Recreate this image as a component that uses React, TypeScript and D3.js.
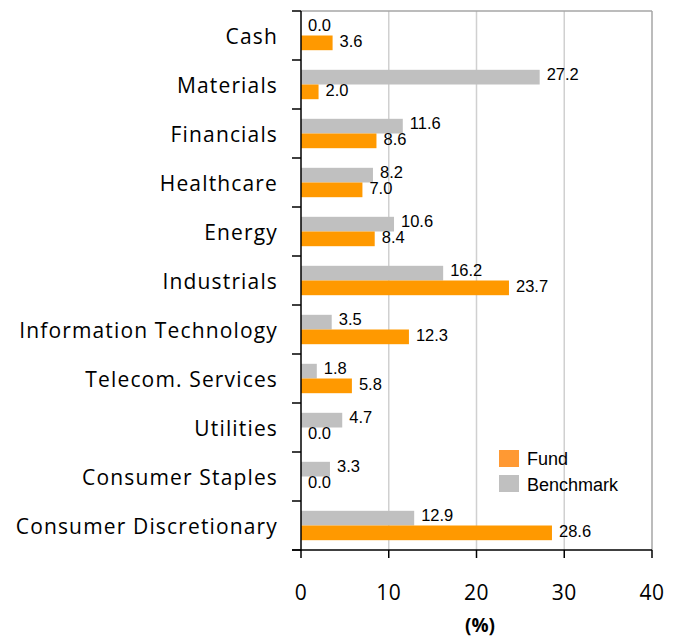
import React from "react";
import * as d3 from "d3";

const categories = [
  "Cash",
  "Materials",
  "Financials",
  "Healthcare",
  "Energy",
  "Industrials",
  "Information Technology",
  "Telecom. Services",
  "Utilities",
  "Consumer Staples",
  "Consumer Discretionary",
];
const fund = [3.6, 2.0, 8.6, 7.0, 8.4, 23.7, 12.3, 5.8, 0.0, 0.0, 28.6];
const benchmark = [0.0, 27.2, 11.6, 8.2, 10.6, 16.2, 3.5, 1.8, 4.7, 3.3, 12.9];
const xTicks = [0, 10, 20, 30, 40];
const seriesNames = ["Benchmark", "Fund"];

const W = 680;
const H = 637;
const left = 301;
const right = 652;
const top = 11;
const bottom = 550;

export default function App() {
  const x = d3.scaleLinear().domain([0, 40]).range([left, right]);
  const y = d3.scaleBand<string>().domain(categories).range([top, bottom]).padding(0);
  const bw = y.bandwidth();
  const inner = d3
    .scaleBand<string>()
    .domain(seriesNames)
    .range([bw * 0.2, bw * 0.8])
    .padding(0);
  const colors: Record<string, string> = { Fund: "#FF9900", Benchmark: "#C0C0C0" };
  const valueFont = "'Liberation Sans', Arial, sans-serif";
  const catFont = "'Open Sans', 'Noto Sans', sans-serif";

  return (
    <svg width={W} height={H} style={{ position: "absolute", left: 0, top: 0, background: "#fff" }}>
      {xTicks.slice(1, -1).map((t) => (
        <line key={"g" + t} x1={x(t)} x2={x(t)} y1={top} y2={bottom} stroke="#D0D0D0" strokeWidth={1.5} />
      ))}
      <line x1={left} x2={right} y1={top} y2={top} stroke="#A6A6A6" strokeWidth={1.5} />
      <line x1={right} x2={right} y1={top} y2={bottom} stroke="#A6A6A6" strokeWidth={1.5} />

      {categories.map((c, i) => {
        const y0 = y(c) as number;
        const vals: Record<string, number> = { Benchmark: benchmark[i], Fund: fund[i] };
        return (
          <g key={c}>
            {seriesNames.map((s) => {
              const by = y0 + (inner(s) as number);
              const bh = inner.bandwidth();
              const v = vals[s];
              const off = s === "Benchmark" ? -3 : -1.5;
              return (
                <g key={s}>
                  <rect x={x(0)} y={by} width={x(v) - x(0)} height={bh} fill={colors[s]} />
                  <text
                    x={x(v) + 7}
                    y={by + bh / 2 + 6 + off}
                    fontFamily={valueFont}
                    fontSize={16.5}
                    fill="#000"
                  >
                    {v.toFixed(1)}
                  </text>
                </g>
              );
            })}
            <text
              x={278}
              y={y0 + bw / 2 + 8.5}
              textAnchor="end"
              fontFamily={catFont}
              fontSize={21}
              letterSpacing={1.15}
              fill="#000"
            >
              {c}
            </text>
          </g>
        );
      })}

      <line x1={left} x2={left} y1={top} y2={bottom + 0.75} stroke="#000" strokeWidth={1.5} />
      {d3.range(categories.length + 1).map((k) => {
        const yy = top + k * bw;
        return <line key={"yt" + k} x1={left - 9} x2={left} y1={yy} y2={yy} stroke="#000" strokeWidth={1.5} />;
      })}
      <line x1={left - 9} x2={right} y1={bottom} y2={bottom} stroke="#000" strokeWidth={1.5} />
      {xTicks.map((t) => (
        <g key={"xt" + t}>
          <line x1={x(t)} x2={x(t)} y1={bottom} y2={bottom + 8} stroke="#000" strokeWidth={1.5} />
          <text
            x={x(t)}
            y={600}
            textAnchor="middle"
            fontFamily={catFont}
            fontSize={21}
            letterSpacing={0.5}
            fill="#000"
          >
            {t}
          </text>
        </g>
      ))}
      <text x={480} y={632} textAnchor="middle" fontFamily={catFont} fontWeight="bold" fontSize={19} fill="#000">
        (%)
      </text>

      <rect x={499} y={450} width={20} height={17} fill="#FF9933" />
      <text x={527} y={465} fontFamily={valueFont} fontSize={18} fill="#000">
        Fund
      </text>
      <rect x={499} y={475} width={20} height={17} fill="#C0C0C0" />
      <text x={527} y={491} fontFamily={valueFont} fontSize={18} fill="#000">
        Benchmark
      </text>
    </svg>
  );
}
